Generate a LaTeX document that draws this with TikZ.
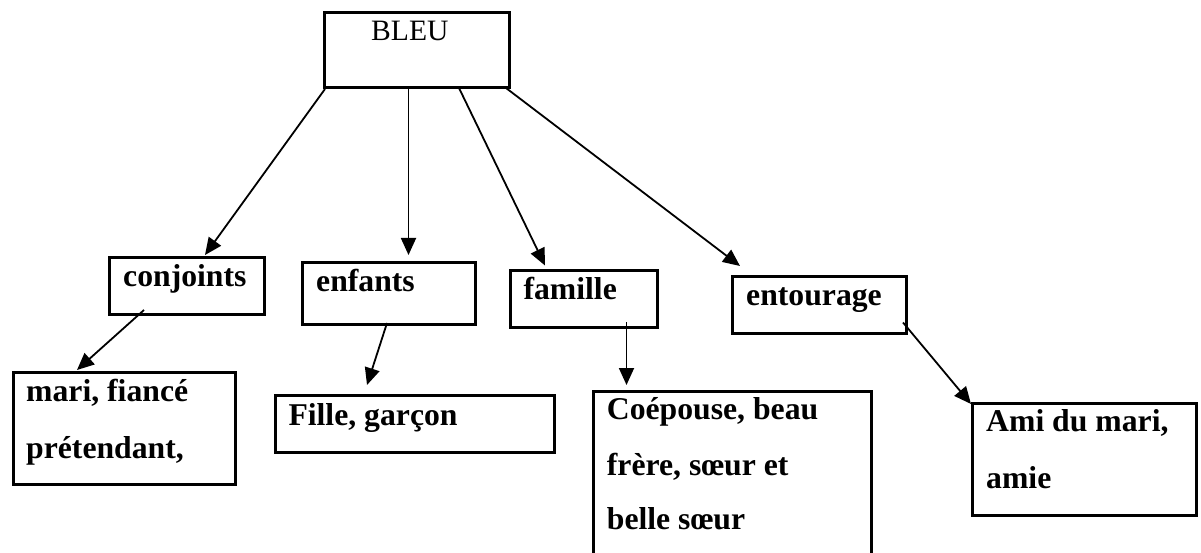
\documentclass[tikz,border=0pt]{standalone}
\usepackage{fontspec}
\setmainfont{Liberation Serif}
\usetikzlibrary{arrows.meta}
\begin{document}
\begin{tikzpicture}[x=1pt,y=-1pt,
  box/.style={draw,line width=3pt,rectangle,inner sep=0pt,anchor=north west},
  lbl/.style={anchor=base west,inner sep=0pt,font=\fontsize{31.7}{56}\selectfont\bfseries},
  title/.style={anchor=base west,inner sep=0pt,font=\fontsize{29.6}{36}\selectfont},
  link/.style={line width=1.8pt,-{Triangle[length=17pt,width=15pt]}}]
\useasboundingbox (0,0) rectangle (1201,553);
% boxes
\node[box,minimum width=185pt,minimum height=75pt] (bleu) at (323,11) {};
\node[box,minimum width=155pt,minimum height=56.5pt] (conj) at (108,256) {};
\node[box,minimum width=173pt,minimum height=62pt] (enf) at (301,261) {};
\node[box,minimum width=147.5pt,minimum height=57pt] (fam) at (508.5,269) {};
\node[box,minimum width=174pt,minimum height=57pt] (ent) at (731,274.5) {};
\node[box,minimum width=222pt,minimum height=111.5pt] (mari) at (12,371) {};
\node[box,minimum width=279.5pt,minimum height=56.5pt] (fille) at (273.5,394) {};
\node[box,minimum width=278pt,minimum height=168pt] (coep) at (592,390) {};
\node[box,minimum width=224pt,minimum height=111.5pt] (ami) at (971,402) {};
% texts
\node[title] (tBleu) at (371,40.5) {BLEU};
\node[lbl] (tConj) at (123,286.7) {conjoints};
\node[lbl] (tEnf) at (316,291.7) {enfants};
\node[lbl] (tFam) at (523.3,299.3) {famille};
\node[lbl] (tEnt) at (746,305) {entourage};
\node[lbl] (tMariA) at (26,401.7) {mari, fiancé};
\node[lbl] (tMariB) at (26,458) {prétendant,};
\node[lbl] (tFille) at (288.3,425) {Fille, garçon};
\node[lbl] (tCoepA) at (606.7,419.3) {Coépouse, beau};
\node[lbl] (tCoepB) at (606.7,475) {frère, sœur et};
\node[lbl] (tCoepC) at (606.7,529.3) {belle sœur};
\node[lbl] (tAmiA) at (986,431.7) {Ami du mari,};
\node[lbl] (tAmiB) at (986,488.3) {amie};
% connector ends
\coordinate (s1) at (325,89);   \coordinate (e1) at (205,255);
\coordinate (s2) at (408.5,88); \coordinate (e2) at (408.5,255);
\coordinate (s3) at (459,88);   \coordinate (e3) at (545,265.5);
\coordinate (s4) at (506,88);   \coordinate (e4) at (740,266);
\coordinate (s5) at (144,310);  \coordinate (e5) at (77,370);
\coordinate (s6) at (387,323);  \coordinate (e6) at (367,385);
\coordinate (s7) at (626.5,322);\coordinate (e7) at (626.5,385);
\coordinate (s8) at (903,322.5);\coordinate (e8) at (971,404);
% connectors
\draw[link] (s1) -- (e1);
\draw[link] (s2) -- (e2);
\draw[link] (s3) -- (e3);
\draw[link] (s4) -- (e4);
\draw[link] (s5) -- (e5);
\draw[link] (s6) -- (e6);
\draw[link] (s7) -- (e7);
\draw[link] (s8) -- (e8);
\end{tikzpicture}
\end{document}
